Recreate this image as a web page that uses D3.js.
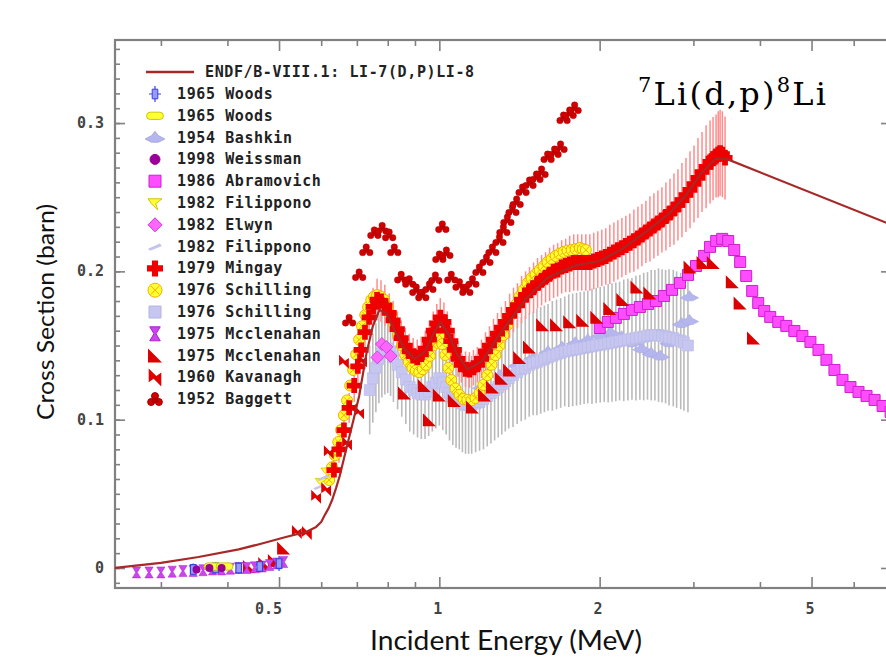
<!DOCTYPE html>
<html><head><meta charset="utf-8">
<script src="https://cdn.jsdelivr.net/npm/d3@7"></script>
<style>body{margin:0;background:#fff}svg{display:block}</style>
</head><body>
<svg id="c" width="886" height="666"></svg>
<script>
// ---------------- DATA ----------------
const xMajor = [0.5, 1, 2, 5];
const xTickLabels = ["0.5", "1", "2", "5"];
const xMinor = [0.3, 0.4, 0.6, 0.7, 0.8, 0.9, 3, 4, 6, 7];
const yMajor = [0, 0.1, 0.2, 0.3];
const yTickLabels = ["0", "0.1", "0.2", "0.3"];
const yMinor = d3.range(-0.01, 0.3551, 0.01);

const legendLabels = ["ENDF/B-VIII.1: LI-7(D,P)LI-8", "1965 Woods", "1965 Woods", "1954 Bashkin", "1998 Weissman",
  "1986 Abramovich", "1982 Filippono", "1982 Elwyn", "1982 Filippono", "1979 Mingay", "1976 Schilling",
  "1976 Schilling", "1975 Mcclenahan", "1975 Mcclenahan", "1960 Kavanagh", "1952 Baggett"];

// ENDF evaluation [E MeV, sigma barn]
const endf = [[0.246,0.000],[0.30,0.0035],[0.353,0.0074],[0.42,0.0125],[0.47,0.0170],[0.515,0.0209],[0.562,0.0243],
  [0.587,0.0277],[0.60,0.031],[0.61,0.036],[0.62,0.0405],[0.629,0.0458],[0.64,0.054],[0.65,0.062],[0.668,0.0796],[0.69,0.100],
  [0.707,0.116],[0.73,0.145],[0.75,0.163],[0.772,0.174],[0.795,0.172],[0.825,0.160],[0.86,0.148],[0.90,0.141],[0.94,0.146],
  [0.975,0.158],[1.005,0.166],[1.04,0.158],[1.08,0.144],[1.13,0.134],[1.20,0.139],[1.30,0.158],[1.45,0.181],[1.60,0.196],
  [1.80,0.204],[2.00,0.207],[2.20,0.215],[2.45,0.227],[2.70,0.239],[2.90,0.251],[3.10,0.266],[3.30,0.276],
  [3.48,0.2755],[7.05,0.2315]];

// 1979 Mingay [E, sigma, err]
const mingay = [[0.634,0.066,0.008],[0.648,0.080,0.009],[0.662,0.093,0.010],[0.677,0.108,0.010],[0.692,0.123,0.011],
  [0.703,0.136,0.011],[0.713,0.147,0.012],[0.725,0.159,0.012],[0.738,0.169,0.013],[0.751,0.176,0.013],[0.764,0.181,0.014],
  [0.777,0.180,0.014],[0.790,0.177,0.014],[0.805,0.172,0.013],[0.819,0.167,0.013],[0.834,0.161,0.012],[0.848,0.155,0.012],
  [0.863,0.150,0.012],[0.878,0.146,0.012],[0.893,0.143,0.012],[0.909,0.142,0.012],[0.925,0.144,0.012],[0.941,0.148,0.012],
  [0.958,0.154,0.013],[0.974,0.160,0.013],[0.989,0.165,0.013],[1.004,0.169,0.013],[1.020,0.166,0.013],[1.035,0.160,0.013],
  [1.051,0.153,0.012],[1.067,0.147,0.012],[1.084,0.141,0.012],[1.100,0.137,0.012],[1.120,0.134,0.012],[1.139,0.1335,0.012],
  [1.159,0.135,0.012],[1.179,0.137,0.012],[1.200,0.141,0.013],[1.221,0.146,0.013],[1.242,0.150,0.013],[1.264,0.154,0.014],
  [1.286,0.158,0.014],[1.308,0.162,0.014],[1.331,0.166,0.014],[1.355,0.170,0.015],[1.378,0.174,0.015],[1.402,0.177,0.015],
  [1.427,0.181,0.016],[1.452,0.184,0.016],[1.477,0.187,0.016],[1.503,0.189,0.017],[1.529,0.192,0.017],[1.556,0.194,0.017],
  [1.583,0.196,0.017],[1.611,0.198,0.018],[1.639,0.200,0.018],[1.668,0.201,0.018],[1.697,0.203,0.018],[1.727,0.204,0.018],
  [1.757,0.205,0.019],[1.788,0.206,0.019],[1.819,0.206,0.019],[1.851,0.206,0.019],[1.884,0.206,0.019],[1.917,0.206,0.019],
  [1.950,0.207,0.019],[1.984,0.208,0.019],[2.019,0.209,0.019],[2.054,0.210,0.019],[2.090,0.2115,0.020],[2.127,0.213,0.020],
  [2.164,0.2145,0.020],[2.202,0.216,0.020],[2.240,0.2175,0.020],[2.279,0.219,0.020],[2.319,0.2207,0.021],[2.360,0.2225,0.021],
  [2.401,0.2245,0.021],[2.443,0.2266,0.021],[2.486,0.2286,0.022],[2.529,0.2306,0.022],[2.573,0.2326,0.022],[2.618,0.2347,0.022],
  [2.664,0.237,0.023],[2.711,0.2394,0.023],[2.758,0.242,0.024],[2.806,0.2448,0.024],[2.855,0.248,0.025],[2.905,0.2515,0.025],
  [2.956,0.255,0.026],[3.008,0.2589,0.026],[3.060,0.263,0.027],[3.114,0.267,0.027],[3.169,0.2705,0.028],[3.224,0.2738,0.028],
  [3.266,0.276,0.028],[3.309,0.2778,0.028],[3.340,0.279,0.029],[3.367,0.280,0.029],[3.40,0.279,0.029],[3.44,0.2765,0.028]];

// 1952 Baggett
const baggett = [[0.677,0.167],[0.707,0.1976],[0.729,0.2144],[0.755,0.226],[0.781,0.229],[0.805,0.2245],[0.823,0.2144],
  [0.848,0.196],[0.878,0.193],[0.905,0.1875],[0.929,0.184],[0.958,0.1895],[0.983,0.1956],[1.0,0.2097],[1.013,0.230],
  [1.031,0.2124],[1.053,0.196],[1.091,0.191],[1.124,0.1875],[1.154,0.193],[1.189,0.201],[1.226,0.2077],[1.258,0.2144],
  [1.297,0.2212],[1.319,0.2279],[1.342,0.2347],[1.372,0.2414],[1.397,0.2468],[1.433,0.2549],[1.477,0.2596],[1.522,0.2637],
  [1.556,0.267],[1.597,0.2771],[1.646,0.2805],[1.689,0.2839],[1.711,0.3034],[1.757,0.3068],[1.795,0.3102]];

// 1976 Schilling (yellow)
const schillingA = [[0.621,0.0593],[0.629,0.068],[0.637,0.076],[0.646,0.085],[0.654,0.093],[0.662,0.103],[0.671,0.113],
  [0.680,0.123],[0.689,0.1335],[0.698,0.144],[0.707,0.154],[0.716,0.163],[0.726,0.1706],[0.735,0.176],[0.745,0.1807],
  [0.754,0.183],[0.764,0.184],[0.776,0.183],[0.788,0.1807],[0.800,0.176],[0.812,0.1706],[0.824,0.164],[0.837,0.157],
  [0.850,0.150],[0.863,0.1436],[0.876,0.139],[0.89,0.1349],[0.903,0.133],[0.917,0.132],[0.931,0.134],[0.945,0.137],
  [0.960,0.143],[0.974,0.150],[0.987,0.155],[1.0,0.157],[1.013,0.151],[1.026,0.1436],[1.04,0.135],[1.053,0.1268],
  [1.072,0.121],[1.091,0.1167],[1.11,0.114],[1.129,0.1133],[1.149,0.113],[1.169,0.1146],[1.19,0.118],[1.21,0.1234],
  [1.231,0.130],[1.253,0.137],[1.275,0.1435],[1.297,0.150],[1.319,0.157],[1.342,0.1639],[1.366,0.171],[1.39,0.1773],
  [1.414,0.183],[1.439,0.1875],[1.464,0.192],[1.49,0.1955],[1.516,0.198],[1.543,0.2009],[1.57,0.2035],[1.597,0.2063],
  [1.625,0.2085],[1.654,0.2104],[1.682,0.212],[1.711,0.2131],[1.741,0.214],[1.772,0.2144],[1.803,0.215],[1.835,0.2158],
  [1.86,0.215],[1.884,0.2144]];

// 1976 Schilling (lavender, with large error bars) [E, sigma, err]
const schillingB = [[0.74,0.12,0.03],[0.75,0.128,0.03],[0.76,0.135,0.03],[0.77,0.141,0.03],[0.78,0.145,0.03],[0.79,0.147,0.03],
  [0.80,0.148,0.03],[0.81,0.146,0.03],[0.82,0.142,0.03],[0.835,0.137,0.03],[0.85,0.132,0.03],[0.865,0.127,0.03],[0.88,0.122,0.03],
  [0.895,0.12,0.03],[0.91,0.118,0.03],[0.925,0.117,0.03],[0.94,0.117,0.03],[0.955,0.119,0.03],[0.97,0.122,0.03],[0.985,0.125,0.031],
  [1.00,0.128,0.032],[1.015,0.125,0.032],[1.03,0.122,0.032],[1.045,0.118,0.032],[1.06,0.115,0.032],[1.075,0.113,0.032],
  [1.09,0.112,0.032],[1.105,0.111,0.033],[1.12,0.110,0.033],[1.135,0.110,0.033],[1.15,0.110,0.033],[1.17,0.111,0.033],
  [1.19,0.112,0.033],[1.21,0.114,0.034],[1.23,0.116,0.034],[1.25,0.118,0.034],[1.27,0.120,0.034],[1.29,0.122,0.034],
  [1.31,0.124,0.034],[1.33,0.126,0.034],[1.35,0.128,0.034],[1.375,0.130,0.035],[1.40,0.132,0.035],[1.425,0.134,0.035],
  [1.45,0.135,0.035],[1.475,0.137,0.035],[1.50,0.138,0.035],[1.525,0.139,0.036],[1.55,0.140,0.036],[1.575,0.141,0.036],
  [1.60,0.142,0.036],[1.63,0.143,0.037],[1.66,0.144,0.037],[1.69,0.145,0.037],[1.72,0.146,0.037],[1.75,0.1465,0.038],
  [1.78,0.147,0.038],[1.81,0.1475,0.038],[1.84,0.148,0.038],[1.87,0.1485,0.038],[1.90,0.149,0.038],[1.935,0.1495,0.039],
  [1.97,0.150,0.039],[2.005,0.1505,0.039],[2.04,0.151,0.039],[2.075,0.1515,0.040],[2.11,0.152,0.040],[2.145,0.1525,0.040],
  [2.18,0.153,0.040],[2.22,0.1535,0.041],[2.26,0.154,0.041],[2.30,0.1545,0.041],[2.34,0.155,0.042],[2.38,0.1555,0.042],
  [2.42,0.156,0.043],[2.46,0.1565,0.043],[2.50,0.157,0.044],[2.54,0.157,0.044],[2.58,0.157,0.045],[2.62,0.1565,0.045],
  [2.66,0.156,0.045],[2.70,0.1555,0.046],[2.75,0.155,0.046],[2.79,0.154,0.046],[2.84,0.153,0.046],[2.88,0.152,0.046],
  [2.93,0.150,0.045]];

// 1954 Bashkin
const bashkin = [[1.2,0.122],[1.3,0.13],[1.4,0.137],[1.5,0.142],[1.6,0.146],[1.7,0.149],[1.8,0.152],[1.9,0.154],[2.0,0.157],
  [2.1,0.159],[2.2,0.156],[2.3,0.152],[2.4,0.148],[2.5,0.145],[2.6,0.143],[2.7,0.152],[2.85,0.165],[2.95,0.183],[2.95,0.167]];

// 1986 Abramovich
const abramovich = [[2.001,0.1618],[2.072,0.1659],[2.145,0.1686],[2.221,0.1713],[2.299,0.174],[2.380,0.176],[2.465,0.178],
  [2.551,0.180],[2.641,0.1834],[2.735,0.1875],[2.831,0.1922],[2.931,0.1976],[3.034,0.2036],[3.142,0.2104],[3.224,0.2165],
  [3.311,0.2205],[3.398,0.2219],[3.487,0.2205],[3.579,0.2144],[3.672,0.2063],[3.769,0.1969],[3.868,0.1868],[3.97,0.1787],
  [4.075,0.1733],[4.182,0.1693],[4.33,0.1659],[4.483,0.1632],[4.642,0.1598],[4.806,0.1564],[4.976,0.1524],[5.152,0.147],
  [5.333,0.1403],[5.521,0.1335],[5.716,0.1268],[5.917,0.122],[6.126,0.1187],[6.342,0.116],[6.567,0.1133],[6.798,0.1092],
  [7.038,0.1052]];

// 1975 Mcclenahan (red triangles)
const mcclenahanR = [[0.44,0.001],[0.47,0.003],[0.49,0.005],[0.51,0.0135],[0.86,0.118],[0.937,0.123],[0.958,0.100],[1.0,0.1167],
  [1.067,0.113],[1.154,0.1085],[1.216,0.1167],[1.258,0.122],[1.308,0.128],[1.355,0.1335],[1.415,0.142],[1.477,0.149],
  [1.563,0.164],[1.66,0.164],[1.757,0.166],[1.859,0.167],[1.976,0.169],[2.09,0.175],[2.211,0.181],[2.35,0.1895],
  [2.486,0.1854],[2.957,0.203],[3.128,0.206],[3.27,0.206],[3.55,0.193],[3.672,0.1787],[3.89,0.155]];

// 1975 Mcclenahan (magenta)
const mcclenahanM = [[0.27,-0.003],[0.285,-0.003],[0.30,-0.003],[0.315,-0.0025],[0.33,-0.002],[0.345,-0.002],[0.36,-0.0015],
  [0.375,-0.001],[0.39,-0.001],[0.405,-0.0005],[0.42,0.0],[0.435,0.0],[0.45,0.0005],[0.465,0.001],[0.48,0.002],[0.495,0.003],
  [0.51,0.004]];

// 1960 Kavanagh
const kavanagh = [[0.54,0.0243],[0.564,0.0236],[0.587,0.048],[0.613,0.053],[0.62,0.078],[0.662,0.139],[0.671,0.084],
  [0.686,0.1085],[0.707,0.105],[0.716,0.140]];

// 1965 Woods (blue, with error) [E, sigma, err]
const woodsA = [[0.345,-0.001,0.004],[0.38,0.0,0.004],[0.42,0.0,0.004],[0.46,0.001,0.004],[0.50,0.003,0.005]];
// 1965 Woods (yellow)
const woodsB = [[0.375,0.001],[0.395,0.001]];
// 1998 Weissman
const weissman = [[0.35,-0.001],[0.37,0.0],[0.39,0.0]];
// 1982 Elwyn
const elwyn = [[0.765,0.142],[0.78,0.151],[0.795,0.149],[0.81,0.143]];
// 1982 Filippono (yellow) and (lavender)
const filipponoA = [[0.60,0.058],[0.615,0.065]];
const filipponoB = [[0.595,0.055],[0.605,0.061]];

// ---------------- CHART ----------------
const svg = d3.select("#c");
const m = {l: 115, t: 40, r: 891, b: 588};
const x = d3.scaleLog().domain([0.246, 7.05]).range([m.l, m.r]);
const y = d3.scaleLinear().domain([-0.0135, 0.356]).range([m.b, m.t]);
const axCol = "#808080";

function styleAxis(sel) {
  sel.select(".domain").remove();
  sel.selectAll("line").attr("stroke", axCol).attr("stroke-width", 1.6);
  sel.selectAll("text").remove();
}
const axes = svg.append("g");
axes.append("g").attr("transform", `translate(0,${m.b})`).call(d3.axisBottom(x).tickValues(xMinor).tickSize(-6).tickFormat("")).call(styleAxis);
axes.append("g").attr("transform", `translate(0,${m.b})`).call(d3.axisBottom(x).tickValues(xMajor).tickSize(-11).tickFormat("")).call(styleAxis);
axes.append("g").attr("transform", `translate(0,${m.t})`).call(d3.axisTop(x).tickValues(xMinor).tickSize(-6).tickFormat("")).call(styleAxis);
axes.append("g").attr("transform", `translate(0,${m.t})`).call(d3.axisTop(x).tickValues(xMajor).tickSize(-11).tickFormat("")).call(styleAxis);
axes.append("g").attr("transform", `translate(${m.l},0)`).call(d3.axisLeft(y).tickValues(yMinor).tickSize(-5).tickFormat("")).call(styleAxis);
axes.append("g").attr("transform", `translate(${m.l},0)`).call(d3.axisLeft(y).tickValues(yMajor).tickSize(-10).tickFormat("")).call(styleAxis);
axes.append("g").attr("transform", `translate(${m.r},0)`).call(d3.axisRight(y).tickValues(yMinor).tickSize(-5).tickFormat("")).call(styleAxis);
axes.append("g").attr("transform", `translate(${m.r},0)`).call(d3.axisRight(y).tickValues(yMajor).tickSize(-10).tickFormat("")).call(styleAxis);
axes.append("rect").attr("x", m.l).attr("y", m.t).attr("width", m.r - m.l).attr("height", m.b - m.t)
  .attr("fill", "none").attr("stroke", axCol).attr("stroke-width", 2.2);

// tick labels
const tickFont = "'DejaVu Sans Mono', 'Liberation Mono', monospace";
svg.append("g").selectAll("text").data(xMajor).join("text")
  .attr("x", d => x(d) + 3).attr("y", 614).attr("text-anchor", "end")
  .attr("font-family", tickFont).attr("font-weight", "bold").attr("font-size", 15).attr("fill", "#444")
  .text((d, i) => xTickLabels[i]);
svg.append("g").selectAll("text").data(yMajor).join("text")
  .attr("x", 104).attr("y", d => y(d) + 5).attr("text-anchor", "end")
  .attr("font-family", tickFont).attr("font-weight", "bold").attr("font-size", 15).attr("fill", "#444")
  .text((d, i) => yTickLabels[i]);

// axis titles
svg.append("text").attr("x", 506).attr("y", 650).attr("text-anchor", "middle")
  .attr("font-family", "Lato, 'Open Sans', sans-serif").attr("font-size", 27)
  .attr("textLength", 272).attr("lengthAdjust", "spacingAndGlyphs").attr("fill", "#111")
  .text("Incident Energy (MeV)");
svg.append("text").attr("transform", "translate(54,312) rotate(-90)").attr("text-anchor", "middle")
  .attr("font-family", "Lato, 'Open Sans', sans-serif").attr("font-size", 24)
  .attr("textLength", 216).attr("lengthAdjust", "spacingAndGlyphs").attr("fill", "#111")
  .text("Cross Section (barn)");

// ---------- symbols ----------
function circ(cx, cy, r) { return `M${cx - r},${cy}a${r},${r} 0 1,0 ${2 * r},0a${r},${r} 0 1,0 ${-2 * r},0Z`; }
const sym = {
  plus: s => { const w = s * 0.38; return `M${-w},${-s}H${w}V${-w}H${s}V${w}H${w}V${s}H${-w}V${w}H${-s}V${-w}H${-w}Z`; },
  trefoil: s => circ(0, -s * 0.45, s * 0.5) + circ(-s * 0.55, s * 0.4, s * 0.5) + circ(s * 0.55, s * 0.4, s * 0.5) + `M0,${-s*0.3}L${-s*0.5},${s*0.4}L${s*0.5},${s*0.4}Z`,
  tri: s => `M${-s},${-s}L${-s},${s}L${s},${s}Z`,
  bolt: s => `M${-s*0.7},${-s}L${s*0.15},${-s*0.15}L${s*0.7},${-s*0.55}L${s*0.7},${s}L${-s*0.15},${s*0.15}L${-s*0.7},${s*0.55}Z`,
  hourglass: s => `M${-s*0.75},${-s}H${s*0.75}L${s*0.15},0L${s*0.75},${s}H${-s*0.75}L${-s*0.15},0Z`,
  square: s => `M${-s},${-s}H${s}V${s}H${-s}Z`,
  diamond: s => `M0,${-s}L${s},0L0,${s}L${-s},0Z`,
  circle: s => circ(0, 0, s),
  xcircle: s => circ(0, 0, s) + `M${-s*0.6},${-s*0.6}L${s*0.6},${s*0.6}M${s*0.6},${-s*0.6}L${-s*0.6},${s*0.6}`,
  hat: s => `M${-s*1.4},${s*0.2}L${-s*0.45},${-s*0.3}L0,${-s*0.9}L${s*0.45},${-s*0.3}L${s*1.4},${s*0.2}L${s*0.5},${s*0.65}L${-s*0.5},${s*0.65}Z`,
  oblong: s => `M${-s*0.6},${-s*0.45}H${s*0.6}A${s*0.45},${s*0.45} 0 0,1 ${s*0.6},${s*0.45}H${-s*0.6}A${s*0.45},${s*0.45} 0 0,1 ${-s*0.6},${-s*0.45}Z`,
  ribbon: s => `M${-s},${-s*0.6}L${s},${-s*0.6}L${s*0.1},${s*0.1}L${s*0.4},${s}L${-s*0.5},${s*0.1}Z`,
  dash: s => `M${-s},${s*0.3}L${s*0.7},${-s*0.45}L${s},${-s*0.1}L${-s*0.7},${s*0.6}Z`,
  woods: s => `M${-s*0.35},${-s*0.6}H${s*0.35}V${s*0.6}H${-s*0.35}Z`
};

svg.append("clipPath").attr("id", "pc").append("rect")
  .attr("x", m.l).attr("y", m.t).attr("width", m.r - m.l).attr("height", m.b - m.t);
const plot = svg.append("g").attr("clip-path", "url(#pc)");

function errBars(data, color, w) {
  plot.append("g").selectAll("line").data(data).join("line")
    .attr("x1", d => x(d[0])).attr("x2", d => x(d[0]))
    .attr("y1", d => y(d[1] - d[2])).attr("y2", d => y(d[1] + d[2]))
    .attr("stroke", color).attr("stroke-width", w);
}
function pts(data, shape, size, fill, stroke, sw) {
  plot.append("g").selectAll("path").data(data).join("path")
    .attr("transform", d => `translate(${x(d[0])},${y(d[1])})`)
    .attr("d", sym[shape](size))
    .attr("fill", fill).attr("stroke", stroke || "none").attr("stroke-width", sw || 0);
}

// draw order
errBars(schillingB, "#bababa", 1.6);
pts(bashkin, "hat", 6.5, "#b6b6ee", "#a8a8e4", 0.6);
pts(schillingB, "square", 5.5, "#c6c6f0", "#b8b8e8", 0.6);
errBars(mingay, "#ff8c8c", 1.5);
pts(abramovich, "square", 5.5, "#ff4cff", "#cc22cc", 1);
pts(schillingA, "xcircle", 5.5, "#ffff33", "#f0b000", 1);
pts(filipponoA, "ribbon", 6, "#ffff33", "#d8c000", 0.8);
pts(filipponoB, "dash", 6, "#c4c4ec", "none", 0);
pts(elwyn, "diamond", 6.5, "#ff66ff", "#cc33cc", 0.8);
pts(mingay, "plus", 7.5, "#ee0000");
pts(mcclenahanR, "tri", 6.5, "#dd0000");
pts(baggett, "trefoil", 6.5, "#d40000", "#a00000", 0.4);
pts(kavanagh, "bolt", 7, "#e00000");
errBars(woodsA, "#3344dd", 1.2);
pts(mcclenahanM, "hourglass", 5.5, "#cc44ee", "#aa22cc", 0.5);
pts(woodsA, "woods", 8, "#9999ff", "#3344dd", 1.2);
pts(woodsB, "oblong", 8, "#ffff33", "#c8c800", 1);
pts(weissman, "circle", 4, "#990099");

const line = d3.line().x(d => x(d[0])).y(d => y(d[1]));
plot.append("path").datum(endf).attr("d", line).attr("fill", "none")
  .attr("stroke", "#a82828").attr("stroke-width", 2.2).attr("stroke-linejoin", "round");

// ---------- legend ----------
const legendSyms = [null,
  {s: "woods", z: 8, f: "#9999ff", st: "#3344dd", bar: true},
  {s: "oblong", z: 8, f: "#ffff33", st: "#c8c800"},
  {s: "hat", z: 7, f: "#b6b6ee", st: "#a8a8e4"},
  {s: "circle", z: 5, f: "#990099", st: "#990099"},
  {s: "square", z: 6, f: "#ff4cff", st: "#cc22cc"},
  {s: "ribbon", z: 7, f: "#ffff33", st: "#d8c000"},
  {s: "diamond", z: 7, f: "#ff66ff", st: "#cc33cc"},
  {s: "dash", z: 7, f: "#c4c4ec", st: "none"},
  {s: "plus", z: 8, f: "#ee0000", st: "none"},
  {s: "xcircle", z: 7, f: "#ffff33", st: "#f0b000"},
  {s: "square", z: 6, f: "#c6c6f0", st: "#b4b4e6"},
  {s: "hourglass", z: 7, f: "#cc44ee", st: "#aa22cc"},
  {s: "tri", z: 7, f: "#dd0000", st: "none"},
  {s: "bolt", z: 9, f: "#e00000", st: "none"},
  {s: "trefoil", z: 7, f: "#d40000", st: "#a00000"}];
const lg = svg.append("g");
const rowY = i => i === 0 ? 72 : 94 + (i - 1) * 21.8;
lg.append("line").attr("x1", 146).attr("x2", 194).attr("y1", rowY(0)).attr("y2", rowY(0))
  .attr("stroke", "#a82828").attr("stroke-width", 2.4);
legendLabels.forEach((t, i) => {
  lg.append("text").attr("x", i === 0 ? 205 : 177).attr("y", rowY(i) + 5)
    .attr("font-family", tickFont).attr("font-weight", "bold").attr("font-size", 15)
    .attr("letter-spacing", 0.6).attr("fill", "#222").text(t);
  const s = legendSyms[i];
  if (s) {
    if (s.bar) lg.append("path").attr("d", `M155,${rowY(i) - 8}V${rowY(i) + 8}M149,${rowY(i)}H161`).attr("stroke", "#3344dd").attr("stroke-width", 1.2);
    lg.append("path").attr("transform", `translate(155,${rowY(i)})`).attr("d", sym[s.s](s.z))
      .attr("fill", s.f).attr("stroke", s.st).attr("stroke-width", 1);
  }
});

// reaction label
const tl = svg.append("text").attr("x", 638).attr("y", 105)
  .attr("font-family", "'DejaVu Serif', 'Liberation Serif', serif").attr("font-size", 32).attr("fill", "#000")
  .attr("textLength", 188).attr("lengthAdjust", "spacing");
tl.append("tspan").attr("font-size", 21).attr("dy", -13).text("7");
tl.append("tspan").attr("dy", 13).text("Li(d,p)");
tl.append("tspan").attr("font-size", 21).attr("dy", -13).text("8");
tl.append("tspan").attr("dy", 13).text("Li");
</script>
</body></html>
